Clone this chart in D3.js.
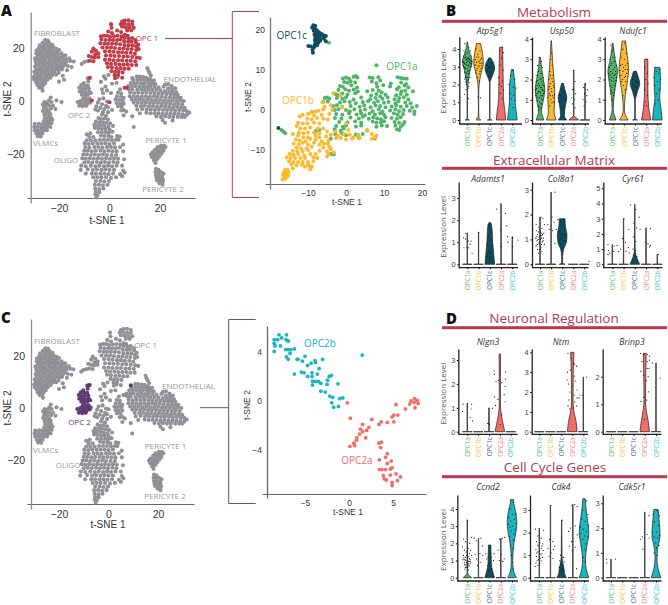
<!DOCTYPE html>
<html><head><meta charset="utf-8"><script src="https://cdn.jsdelivr.net/npm/d3@7"></script>
<style>html,body{margin:0;background:#fff}svg{display:block}text{font-family:"Open Sans",sans-serif}</style></head>
<body><svg id="c" width="668" height="605"></svg>
<script>
// ---------- t-SNE overview clusters (t-SNE 1, t-SNE 2)
const fibroblast=[[-25.5,23],[-24.4,22.8],[-26.5,22],[-25.1,21.7],[-23.8,21.9],[-27.6,21],[-26,20.8],[-24.6,21],[-23.4,20.7],[-22.6,21.2],[-28,19.9],[-26.9,20],[-25.5,19.7],[-24.2,20],[-23,19.8],[-22,20.1],[-21,19.7],[-28.9,19],[-27.5,18.8],[-26.2,19],[-25,18.7],[-23.6,19],[-22.4,18.7],[-21,18.9],[-20,19.2],[-29,18],[-27.8,17.7],[-26.6,18],[-25.2,17.7],[-24,18],[-22.8,17.6],[-21.6,18],[-20.4,17.7],[-19,18],[-28.5,16.9],[-27,16.7],[-25.8,17],[-24.5,16.7],[-23.4,17],[-22.2,16.7],[-21,17],[-19.8,16.6],[-18.5,17],[-17.5,17.2],[-29.5,16],[-28,15.8],[-26.8,16],[-25.5,15.7],[-24,16],[-22.8,15.6],[-21.4,16],[-20,15.7],[-18.8,16],[-17.4,15.8],[-16,16.1],[-29.2,15],[-27.6,14.8],[-26.2,15],[-25,14.7],[-23.6,15],[-22.2,14.8],[-21,15],[-19.6,14.7],[-18.2,15],[-17,14.8],[-15.5,15.1],[-14.2,14.9],[-29,14],[-28,13.8],[-26.6,14],[-25.4,13.7],[-24,14],[-22.8,13.7],[-21.4,14],[-20.2,13.6],[-19,14],[-17.6,13.8],[-29.4,13],[-27.8,12.8],[-26.4,13],[-25,12.7],[-23.6,13],[-22.4,12.7],[-21,13],[-19.6,12.7],[-18.4,13],[-16.5,13.2],[-15,12.8],[-29,12],[-27.6,11.8],[-26.4,12],[-25.2,11.7],[-24,12],[-22.8,11.7],[-21.2,12],[-20,11.7],[-18.8,11.9],[-16.8,11.6],[-29.8,11],[-28.4,10.8],[-27,11],[-25.6,10.7],[-24.4,11],[-23,10.7],[-21.8,11],[-20.2,10.6],[-29.4,10],[-28,9.8],[-26.8,10],[-25.4,9.7],[-24,10],[-22.6,9.8],[-21.2,9.9],[-18.5,9.5],[-30,9],[-28.6,8.8],[-27.4,9],[-26,8.7],[-24.8,9],[-23.4,8.8],[-29.8,8],[-28.4,7.8],[-27.2,8],[-25.8,7.7],[-24.6,8],[-20,7.3],[-18,8],[-29,7],[-27.8,6.8],[-26.6,7],[-25.4,6.8],[-28.6,6],[-27.4,5.8],[-26.2,6],[-27.8,5],[-26.8,4.9],[-26.5,3.9],[-11,14],[-10,14.7],[-8.8,15]];
const vlmc=[[-23.3,1.3],[-24,0.2],[-23,-0.4],[-25.8,-0.4],[-24.8,-0.7],[-26.4,-1.3],[-25.2,-1.7],[-24,-1.6],[-22.4,-1.8],[-26,-2.6],[-24.8,-3],[-23.2,-2.8],[-21.4,-3],[-26.4,-3.8],[-25.2,-4.2],[-24,-4.1],[-25.8,-5.2],[-24.4,-5.4],[-23.4,-4.9],[-25.6,-6.4],[-24.4,-6.6],[-23.2,-6.2],[-26,-7.6],[-24.8,-7.8],[-23.6,-7.4],[-22.6,-7.1],[-29.6,-8.7],[-28,-8.6],[-26.8,-8.8],[-25.4,-8.8],[-24.2,-8.6],[-23,-8.4],[-29.8,-9.8],[-28.4,-9.8],[-27,-10],[-25.8,-9.9],[-24.6,-9.8],[-23.4,-9.8],[-29.6,-11],[-28.4,-11],[-27.2,-11.2],[-26,-11],[-24.8,-11],[-29,-12.2],[-27.8,-12.3],[-26.6,-12.2],[-28.4,-13.3],[-27.2,-13.4],[-19,-0.4],[-21,0.3]];
const oligo=[[-4.6,-0.6],[-3,-1.2],[-1.4,-1.8],[-5.2,-2],[-3.6,-2.6],[-2,-3],[-0.6,-2.4],[1,-3.4],[-5.6,-3.2],[-4.6,-3.6],[-2.6,-4.2],[-0.6,-4.2],[-3,-5.2],[-1.4,-5.6],[-4.4,-6.4],[-3.4,-6.8],[-2,-6.6],[-0.6,-7],[-5.4,-7.8],[-4,-8],[-2.6,-8],[-1.2,-8.2],[0.2,-8.4],[-6,-9],[-4.8,-9.2],[-3.4,-9.2],[-2,-9.4],[-0.4,-9.6],[1.4,-9.4],[-5.8,-10.2],[-4.4,-10.4],[-3,-10.6],[-1.6,-10.6],[0,-10.8],[-9,-12.6],[-7.6,-12.2],[-4.6,-11.8],[-3,-11.8],[-1.4,-11.8],[-0.2,-12],[1.2,-11.6],[-8,-13.6],[-6.4,-13.6],[-3.4,-13],[-2,-13.2],[-0.4,-13.2],[0.8,-13.6],[3,-13.2],[4,-13.4],[-9,-14.8],[-7.4,-14.8],[-5.6,-14.8],[-3.8,-14.6],[-2.2,-14.6],[-0.6,-14.6],[1,-14.8],[2.6,-14.6],[3.6,-14.6],[-9.8,-16],[-8.2,-16.2],[-6.6,-16],[-4.8,-16],[-3.2,-16],[-1.6,-16],[0,-16.2],[1.8,-16],[5.4,-16.4],[-9.6,-17.4],[-8,-17.6],[-6,-17.4],[-4.4,-17.4],[-2.8,-17.6],[-1,-17.4],[0.6,-17.4],[2.2,-17.6],[4.2,-17.4],[-10,-18.8],[-8.6,-18.8],[-7,-19],[-5.4,-18.8],[-3.6,-18.8],[-2,-19],[-0.4,-18.8],[1.2,-19],[2.8,-19],[5.4,-19],[-10.4,-20.2],[-9,-20.2],[-7.4,-20.4],[-5.8,-20.2],[-4.2,-20.4],[-2.6,-20.2],[-1,-20.4],[0.8,-20.4],[2.6,-20.4],[-10.8,-21.6],[-9.4,-21.8],[-7.8,-21.6],[-6.2,-21.8],[-4.6,-21.6],[-3,-21.8],[-1.4,-21.6],[0.2,-21.8],[1.8,-21.6],[3.4,-21.8],[5.8,-22],[-10,-23.2],[-8.4,-23],[-6.8,-23.2],[-5,-23],[-3.4,-23.2],[-1.8,-23],[-0.2,-23.2],[1.6,-23],[3.2,-23.2],[-11.2,-24.4],[-9.4,-24.6],[-7.4,-24.4],[-5.6,-24.6],[-4,-24.4],[-2.2,-24.6],[-0.6,-24.4],[1,-24.6],[2.8,-24.4],[5,-24.4],[-11.4,-26],[-8.6,-25.8],[-6.6,-26],[-5,-25.8],[-3.2,-26],[-1.6,-25.8],[0,-26],[1.8,-26],[5.4,-26.2],[6,-27],[-9.4,-27.4],[-7,-27.4],[-5.4,-27.4],[-3.6,-27.4],[-2,-27.4],[-0.4,-27.6],[1.4,-27.4],[4.2,-27.6],[5,-28.4],[-6.4,-28.8],[-4.8,-28.8],[-3.2,-28.8],[-1.4,-28.8],[0.6,-29],[2.6,-28.8],[-5.4,-30.2],[-3.6,-30.2],[-2,-30.4],[-0.2,-30.2],[-5.8,-31.6],[-4.2,-31.6],[-2.6,-31.8],[-0.8,-31.6],[-5.6,-33],[-4,-33.2],[-2.4,-33],[-5.4,-34.2],[-4,-34.4],[-5.6,-35.2],[-4.8,-35.6],[-5.2,-36.4]];
const endothelial=[[15,12.4],[15.4,11.4],[15.8,10.6],[16.4,9.6],[10.8,9.2],[12,9.2],[13.4,9],[14.6,8.8],[16,8.4],[9.4,8],[11,8],[12.4,8],[13.8,7.8],[15.2,7.8],[16.6,7.6],[17.6,7.8],[22,6.2],[23.2,6.4],[24.6,5.6],[8.4,6.8],[9.8,6.8],[11.2,6.8],[12.6,6.6],[14,6.8],[15.6,6.6],[17,6.6],[18.2,6.4],[21.4,5.4],[7.4,5.6],[8.8,5.6],[10.2,5.6],[11.8,5.4],[13.4,5.6],[14.8,5.4],[16.2,5.6],[17.8,5.4],[19.4,5.2],[23.2,4.8],[24.8,4.6],[26,4.8],[7.6,4.4],[9,4.4],[11,4.2],[12.6,4.4],[14,4.2],[15.6,4.4],[17,4.2],[18.6,4.2],[20.2,4],[22,3.8],[23.6,3.6],[25,3.6],[26.4,3.4],[8.2,3.2],[9.8,3],[11.4,3.2],[13,3],[14.6,3.2],[16.2,3],[17.8,3],[19.4,2.8],[21,2.8],[22.6,2.6],[24.2,2.6],[25.6,2.4],[27,2.4],[8,1.8],[9.6,1.8],[11.2,1.8],[12.8,1.6],[14.4,1.8],[16,1.6],[17.6,1.8],[19,1.6],[20.6,1.6],[22.2,1.4],[24,1.4],[25.6,1.2],[27,1.2],[28.2,1.2],[8.8,0.6],[10.4,0.6],[12,0.6],[13.6,0.4],[15.2,0.6],[16.8,0.4],[18.4,0.4],[20,0.4],[21.6,0.2],[23.2,0.2],[24.8,0.2],[26.4,0],[28,0.2],[29.4,0],[9.6,-0.6],[11.2,-0.6],[12.8,-0.8],[14.4,-0.6],[16,-0.8],[17.6,-0.8],[19.2,-0.8],[20.8,-1],[22.4,-1],[24,-1],[25.6,-1.2],[27.2,-1],[28.8,-1.2],[10.6,-1.8],[12.4,-2],[14,-1.8],[15.6,-2],[17.2,-2],[18.8,-2.2],[20.4,-2],[22,-2.2],[23.6,-2.2],[25.2,-2.4],[26.8,-2.2],[28.4,-2.4],[29.8,-2.6],[11,-3.2],[13,-3],[14.8,-3.2],[16.4,-3.2],[18,-3.4],[19.6,-3.2],[21.2,-3.4],[22.8,-3.4],[24.4,-3.4],[26,-3.6],[27.6,-3.4],[29.2,-3.6],[30.6,-3.8],[31.6,-4.4],[12,-4.6],[14.6,-4.4],[16.2,-4.6],[17.8,-4.6],[19.4,-4.6],[21,-4.8],[22.6,-4.6],[24.2,-4.8],[25.8,-4.8],[27.4,-4.8],[29,-5],[30.6,-5.2],[9,-5.8],[18.6,-5.8],[20.4,-6],[22,-5.8],[23.6,-6],[25.2,-6],[27,-6],[28.6,-6],[29.8,-6],[21,-7.2],[25,-7.4],[22,-8.2],[9.6,-9.8]];
const pericyte1=[[20.4,-16.8],[21.6,-16.8],[19,-17.4],[20.2,-17.6],[21.4,-17.8],[22.2,-17.4],[18,-18.4],[19.2,-18.6],[20.4,-18.8],[21.4,-18.8],[17,-19.4],[18.2,-19.6],[19.4,-19.8],[20.6,-19.8],[16.4,-20.2],[17.4,-20.6],[18.6,-20.8],[19.8,-20.8],[16.8,-21.2],[18,-21.6],[19,-21.8],[17.6,-22.4],[18.4,-22.2],[18.2,-23.4]];
const pericyte2=[[18.4,-25.6],[19.4,-26],[18.2,-26.8],[19.4,-27],[20.4,-26.8],[21.4,-27.4],[18.4,-28],[19.6,-28.2],[20.8,-28.2],[18.6,-29],[19.8,-29.2],[21,-29.2],[18.8,-30],[20,-30.2],[21.2,-30.2],[19.8,-31],[20.9,-31],[21,-31.6]];
const opc2Cluster=[[-8.6,8.6],[-7.6,8.8],[-8.4,7.4],[-10.2,6.8],[-11.2,6],[-9.8,5.8],[-8.6,5.8],[-12,5],[-10.8,4.6],[-9.6,4.6],[-8.2,4.8],[-11.8,3.6],[-10.6,3.4],[-9.4,3.4],[-8,3.6],[-11,2.4],[-9.8,2.2],[-8.6,2.4],[-7.4,3],[-10.4,1],[-9.2,1],[-8,1],[-11.4,0],[-10,0],[-8.8,0],[-7.6,0.2],[-12.6,-0.4],[-11.4,-1],[-10,-1],[-8.8,-1],[-7.6,-0.6],[-12,-1.8],[-10.6,-2],[-9.2,-1.8]];
const scatterGray=[[-2.2,9.3],[-0.4,9.8],[3.2,9],[-3.4,7.2],[-1.6,8.4],[1,6.5],[2.8,6.8],[-1.6,5.5],[-3,4.4],[-1,4],[0.6,3],[-2.6,3],[3.4,3.2],[4.2,4.4],[4.6,2.8],[3,1.8],[4.6,1.6],[5.6,1.2],[2.4,0.6],[3.8,0.4],[5.2,0.2],[2.8,-0.8],[4.2,-1],[5.6,-1],[3.4,-2],[4.8,-2.2],[5.6,-3.4],[4.6,-3.6],[6.6,-4],[5.6,-5.4],[-2.4,1],[-4,0.6],[-1,-0.2]];
const opc1Cluster=[[5,30],[6,30.4],[7.5,30.5],[9,30],[4.5,29],[6,29.2],[7.5,28.9],[9,28.9],[5,28],[6.5,27.8],[8,27.7],[9.6,27.6],[7,26.6],[8.6,26.6],[0.6,29],[0.8,27.6],[-0.5,26.2],[1,25.6],[3,26.6],[4.6,26],[6.1,25],[7.2,24.6],[-3.4,24.4],[-2.2,24.6],[-1,24.6],[0.2,24.2],[1.8,24.4],[3.2,24.6],[4.8,24.4],[6,23.8],[7.6,23.6],[9,23.8],[10.2,23],[-3.2,23.2],[-1.6,23],[0,23],[1.4,23],[3,23],[4.4,23.2],[5.8,22.4],[7.4,22.4],[8.6,22.4],[10.4,22.2],[11.4,21.2],[-3.6,21.8],[-2,21.6],[-0.6,21.6],[1,21.6],[2.6,21.6],[4.2,21.4],[6,21],[7.6,21],[9.2,21],[10.6,20.6],[-2.8,20.2],[-1,20.2],[0.6,20.2],[2.2,20],[4,19.8],[5.6,19.8],[7.2,19.6],[8.8,19.6],[10.6,19.2],[11.6,19.6],[-6.4,19.8],[-5.4,19],[-7,18.6],[-5.6,17.6],[-4.4,18],[-1.8,18.8],[0,18.8],[1.6,18.6],[3.4,18.4],[5,18.4],[6.6,18.2],[8.4,18.2],[10,17.8],[-8.2,17],[-7,16.6],[-5.8,16.4],[-4.4,16.6],[-1.4,17.2],[0.4,17.2],[2,17],[3.8,17],[5.6,16.8],[7.2,16.8],[9,16.6],[10.8,16.4],[12,16.2],[-7.8,15.2],[-6.4,15],[-1.8,15.6],[0,15.6],[1.6,15.4],[3.4,15.4],[5,15.4],[6.8,15.2],[8.4,15.2],[10.2,15],[-1,14.2],[0.6,14],[2.4,14],[4,13.8],[5.6,13.8],[7.2,13.8],[8.8,13.6],[10.6,13.6],[-0.6,12.8],[1,12.6],[2.8,12.4],[4.4,12.4],[6,12.2],[7.6,12.2],[0.8,11.2],[2.2,11],[3.6,11],[5.2,10.8],[2,9.8],[3.4,9.8],[-8,8.7],[-7,0.2],[0,-0.5],[2.2,8.6],[5,8.8],[6,5],[6.8,5]];
const opc2Stray=[[9,8.7]];
const overviewLabels=[['FIBROBLAST',57,33.5],['OPC 1',147,38],['ENDOTHELIAL',190,79],['OPC 2',79,115],['VLMCs',45.5,143.5],['PERICYTE 1',166,140],['OLIGO',66,160],['PERICYTE 2',163,189]];
const overviewLabelsC=[['FIBROBLAST',57,341],['OPC 1',145.5,345],['ENDOTHELIAL',188.5,386],['OPC 2',79.5,422],['VLMCs',45.5,450],['PERICYTE 1',165.5,446],['OLIGO',68,465],['PERICYTE 2',165,496]];

// ---------- OPC1 zoom clusters
const opc1a=[[8,11.2],[-0.8,7.9],[0,8.1],[0.8,7.8],[2,8.3],[2.6,8.5],[3,8.1],[6.2,8.1],[7,8],[8.5,8.2],[13.6,8.2],[14.4,8],[15.2,7.9],[16,7.8],[-0.5,7],[0.4,6.8],[1.2,7.2],[2.4,6.9],[6.8,7.1],[8,6.7],[9,7.4],[11.8,6.6],[14.5,6.9],[15.8,6.5],[-1.6,6],[-0.8,5.8],[1.4,6.2],[2.9,5.6],[8.2,5.8],[9.8,6.2],[11.6,5.9],[13.9,5.7],[15.4,6.1],[16.4,5.6],[-2,5],[-0.2,5.2],[0.8,4.8],[2,5.1],[3.1,4.6],[5.6,4.7],[7,5],[8.6,4.9],[9.4,4.4],[13.4,5.2],[14.6,4.7],[15.6,4.8],[17.6,4.7],[-2.8,4],[-2,3.7],[-1,4.1],[0.4,3.8],[2.4,4.2],[6.6,3.6],[8,4],[9,3.4],[10.4,3.8],[13.2,3.7],[14.4,4],[16,3.8],[-5.6,3],[-5,3.1],[-4.4,2.9],[-2.4,3],[-1,2.8],[0,3.2],[2,2.6],[4,3.1],[6.4,2.7],[7.8,3],[9.6,2.8],[11,3.1],[12.8,2.7],[14,3],[15.2,3.2],[16.4,2.6],[-6,2],[-4.8,2.1],[-1.6,1.9],[-0.4,2.2],[1,2],[2.6,1.7],[4.4,2],[5.8,2.2],[7.4,1.8],[8.4,2.2],[10,1.8],[11.2,2],[13,1.6],[13.8,2.2],[15.6,1.9],[17,1.7],[-3.4,1],[-2.4,1.2],[-1,0.8],[1.2,1],[3.6,0.8],[4.8,1.2],[6.5,0.7],[7.8,1.1],[9,1],[10.4,0.7],[12,0.9],[13.2,1.2],[14.4,0.8],[16,1],[17.4,0.6],[18.6,1],[-3,0],[-2,0.2],[0,0],[1,-0.3],[2.2,0.2],[3.8,-0.2],[5,0.1],[7,-0.3],[8.6,0.2],[9.6,-0.4],[11.6,-0.1],[13,0.2],[14,-0.3],[15.2,0],[16.8,-0.2],[18,-0.4],[-2.6,-1],[-1,-1.2],[0.8,-0.8],[2.8,-1.1],[4,-0.9],[5,-1.3],[6.2,-0.9],[7.6,-1.1],[9,-0.8],[10,-1.2],[12.6,-0.8],[13.6,-1.2],[15,-1],[18,-1],[-2.9,-2],[-1.2,-2.2],[1.2,-1.9],[3.4,-2.1],[4.4,-1.7],[6,-2.2],[7.2,-1.8],[8.2,-2.1],[9.2,-2.3],[10.4,-1.8],[12,-2],[13.4,-2.2],[14.4,-1.8],[-1.8,-3],[0.4,-3.1],[2.4,-2.8],[4,-3.2],[7,-2.9],[8,-3.2],[9.2,-3.1],[10,-2.8],[12.8,-3],[14,-3.2],[15.4,-3],[-2.6,-4],[-0.8,-4.2],[0,-3.8],[2.6,-4.1],[4,-3.9],[8,-4.2],[9.4,-3.9],[10.8,-4],[13,-3.9],[14.4,-4.2],[15,-3.6],[-7,-5],[-3,-4.8],[-1.4,-5.2],[-0.6,-4.6],[5.6,-5.1],[13.4,-4.8],[14,-5],[-2.8,-6],[-1,-5.9],[0,-6.3],[2.6,-6.1],[3.2,-6.3],[4.4,-6],[-4,-7.2],[3.4,-7],[7.6,-7.1],[-9,-0.5],[-8,-5.3],[-4,-11],[-3.2,-11.1],[-4.5,16.8],[-17,-5],[-16.5,-5.4],[-16,-5.8]];
const opc1b=[[-3.3,4.2],[-1.4,3.6],[-6.2,1.9],[-4,1.2],[-5.6,0.8],[-1,0.6],[-3.6,0],[-6,0.2],[-7.2,-0.2],[-8,-0.4],[-9.2,-0.6],[-10,-1],[-11.4,-1.2],[-12.2,-1.6],[-8.4,-1.4],[-6.4,-1.2],[-4.4,-1],[-10.2,-2.2],[-9,-2.4],[-7.6,-2],[-6,-2.2],[-4.8,-2.4],[-12.6,-3.2],[-11.4,-3.4],[-10.2,-3.4],[-8.4,-3.2],[-7,-3.4],[-13,-4],[-12,-4.6],[-10.8,-4.6],[-9.4,-4.4],[-7.4,-4.6],[-6,-4.6],[0,-3.4],[-12.4,-5.6],[-11.2,-5.8],[-10,-5.6],[-8.4,-5.6],[-7,-5.8],[-5,-5.4],[0.6,-5],[-2.8,-5.4],[-14,-6],[-12.6,-6.4],[-11.2,-6.8],[-10,-6.8],[-8,-6.4],[-7,-6.8],[-5.2,-6.6],[-4,-6.2],[-2.2,-6.4],[-0.6,-6],[1,-6.2],[3.2,-6.2],[5.6,-5],[6.8,-6],[8,-6.4],[-13.2,-7.4],[-12.2,-7.6],[-10.6,-7.8],[-9.4,-7.2],[-8,-7.4],[-6.4,-7.8],[-4.6,-7.6],[-2.6,-7],[-1.4,-7],[0,-7.4],[1.6,-7.2],[2,-6.8],[3.6,-7],[6.8,-7.2],[7.6,-6.8],[-13.8,-8.4],[-12.4,-8.6],[-11.4,-8.2],[-10,-8.6],[-8.4,-8.2],[-7,-8.6],[-5.8,-8.4],[-4.8,-8.4],[-13,-9.4],[-11.8,-9.6],[-10.4,-9.6],[-9,-9.2],[-6,-9.4],[-4.4,-9.2],[-14,-10.2],[-12.8,-10.4],[-11.4,-10.4],[-10,-10],[-7,-10.2],[-5,-10.4],[-4,-9.8],[-14.8,-11],[-13.8,-11.2],[-12.6,-11],[-11,-11.4],[-9.4,-11],[-8,-11],[-4.6,-11],[-3.2,-10.6],[-15.6,-11.8],[-14.6,-12],[-13.4,-12],[-12,-12],[-10.8,-12],[-8.6,-11.8],[-7.6,-12],[-5,-11.6],[-15,-12.8],[-13.8,-13],[-12.6,-13],[-11.4,-13],[-10,-13],[-8.6,-12.8],[-14.4,-13.6],[-13,-13.8],[-11.6,-13.6],[-10,-13.6],[-14,-14.6],[-10.8,-14.2],[-9.6,-14],[-9,-14.2],[-9.4,-14.8],[-16,-15],[-15.4,-15],[-15.2,-15.4],[-16.4,-15.6],[-15.7,-15.8],[-15.2,-16],[-16.6,-16.2],[-16,-16.4],[-15.4,-16.6],[-16.4,-17],[-16,-17.2],[-16.7,-17.4]];
const opc1c=[[-8.6,21.2],[-8.1,21],[-8.9,20.6],[-8.3,20.3],[-7.8,20],[-8.5,19.8],[-7.4,19.6],[-8,19.4],[-7,19.3],[-6.4,19],[-8.3,18.8],[-7.6,18.8],[-5.8,18.6],[-5.3,18.5],[-7,18.5],[-8,18.2],[-7.4,18],[-6.6,18],[-5.8,17.8],[-8.2,17.5],[-7.5,17.4],[-6.8,17.3],[-8,16.9],[-7.3,16.8],[-5.3,17.2],[-8.2,16.3],[-7.6,16.2],[-9.9,16],[-9.2,15.9],[-8.4,15.7],[-8.8,15],[-8.7,14.3],[-17.8,-4.5]];
// ---------- OPC2 zoom clusters
const opc2b=[[-8.5,5],[-8.5,4.7],[-8.4,4.5],[-8.5,4.05],[-7.95,5.4],[-7.65,5.15],[-8.1,5],[-7.1,5.4],[-7.15,5],[-6.9,4.9],[-7.8,4.5],[-7.2,4.2],[-6.9,4.2],[-6.6,4.2],[-6.2,4.25],[-6.7,3.9],[-7.1,3.6],[-6.9,3.4],[-5.9,3.4],[-5.8,3.4],[-5.3,3.25],[-5,3.65],[-4.7,2.9],[-4.3,3.1],[-3.85,3.3],[-3.8,3.15],[-3,3.4],[-3.4,2.65],[-6.2,2.2],[-5.4,2.35],[-5.1,2.3],[-4.7,2],[-4.2,2.3],[-4.2,2],[-3.6,2.2],[-2,2.1],[-2.25,2],[-2.45,1.7],[-1.25,1.4],[-4.15,1.6],[-3.85,1.6],[-3.5,1.6],[-3.2,1.45],[-4.15,1.3],[-2.5,1.35],[-3.2,0.8],[-2.7,0.73],[-2.2,0.4],[-1.85,0.3],[-1.05,0.2],[-0.7,0.25],[-1.95,-0.15],[-1.75,-0.5],[-1.2,-0.45],[1.5,3.75]];
const opc2a=[[-0.2,-0.15],[0.15,-1.4],[7.45,0.2],[7.05,0],[7.75,0.05],[7.4,-0.1],[6.9,-0.25],[7.85,-0.2],[6.4,-0.65],[7.5,-0.55],[5.35,-0.3],[5.1,-1.15],[5.55,-1.15],[4.9,-1.3],[5.1,-1.7],[4.35,-1.75],[3.65,-1.7],[3.4,-1.9],[2.6,-1.5],[1.55,-1.9],[2.25,-2.15],[2,-2.4],[1.3,-2.3],[1.55,-2.5],[1.2,-2.7],[1.9,-3],[0.9,-3],[0.85,-3.2],[0.55,-3.45],[0.1,-3.7],[0.65,-3.65],[3.4,-3.45],[3.7,-3.35],[3.6,-3.8],[4.35,-4.3],[4.15,-4.6],[3.45,-4.8],[4.8,-4.9],[4.35,-5.1],[3.45,-5.6],[3.75,-5.6],[4.15,-5.6],[4.7,-5.55],[4.9,-5.45],[3.9,-6.1],[4,-6.35],[4.25,-6.45],[4.7,-6.05],[5.35,-5.95],[5.85,-6.2],[5.5,-6.5],[4.9,-6.65],[4.9,-6.9]];

// ---------- violins: shape = [value, relative half width]; a bare number = thin line up to that value
const catNames=['OPC1a','OPC1b','OPC1c','OPC2a','OPC2b'];
const catColors=['#4fb568','#fdb92b','#0e4d5e','#f26d68','#17b7c0'];
const catTextColors=['#62c07a','#f8c23f','#3f6f7c','#f58580','#3cc6cd'];
const atp5g1Shape=[[[0,.45],[.05,.05],[1.5,.03],[2.2,.2],[2.8,.6],[3.3,1],[3.7,.6],[4.1,.2],[4.4,.03]],[[0,.45],[.15,.1],[.4,.03],[1.5,.03],[2.5,.4],[3.2,1],[3.8,.8],[4.2,.5],[4.3,.45]],[[0,.5],[.03,.03],[2.1,.03],[2.4,.4],[2.9,1],[3.2,.8],[3.5,.2]],[[0,1],[.5,.8],[1.2,.5],[2,.45],[3,.4],[4.1,.3]],[[0,1],[.5,.8],[1,.6],[1.8,.6],[2.4,.4],[2.85,.2]]];
const usp50Shape=[[[0,.8],[.2,.5],[.4,.3],[1,.7],[1.5,1],[2,.7],[2.6,.3],[3.1,.1]],[[0,1],[.4,.6],[1,.7],[1.5,.7],[2.2,.5],[3,.25],[3.9,.05]],[[0,.9],[.2,.4],[.7,.6],[1.1,.9],[1.5,.5],[1.8,.2]],[[0,1],[.1,.6],[.2,.05],[1.2,.03],[2.45,.03]],1.8];
const ndufc1Shape=[[[0,.7],[.2,.4],[.5,.1],[1.2,.3],[2,.8],[2.4,1],[3,.5],[3.5,.2],[3.8,.05]],[[0,.9],[.2,.4],[.5,.1],[1.2,.3],[2,.8],[2.5,1],[3.2,.7],[3.9,.35]],[[0,.5],[.05,.05],[.9,.05],[1.4,.5],[1.8,1],[2.1,.7],[2.4,.3]],[[0,1],[.6,.55],[1.5,.35],[2.2,.35],[3,.35]],[[0,1],[.5,.8],[1.1,.5],[1.7,.65],[2.2,.65],[2.6,.5]]];
const adamts1Shape=[1.42,1.45,[[0,1],[.4,.85],[1,.6],[1.5,.5],[1.8,.35],[1.9,.1]],2.75,1.25];
const col8a1Shape=[1.9,2.9,[[0,.6],[.05,.1],[.3,.1],[.6,.3],[.9,.9],[1.2,1],[1.5,.7],[1.83,.6]],0,0];
const cyr61Shape=[1.3,3,[[0,1],[.3,.6],[.6,.25],[1,.08],[2,.04],[3.95,.03]],2.4,.65];
const nlgn3Shape=[1.2,0,1,[[0,1],[.3,.7],[.7,.3],[1.2,.12],[2,.12],[3.25,.15]],0];
const ntmShape=[0,0,0,[[0,1],[.5,.8],[1,.35],[1.5,.15],[3,.2],[4,.35]],2.75];
const brinp3Shape=[0,0,0,[[0,1],[.4,.7],[.8,.3],[1.2,.15],[2,.2],[2.85,.3]],2.5];
const ccnd2Shape=[[[0,.9],[.15,.3],[.3,.05],[3.35,.03]],2.3,[[0,1],[.4,.6],[.8,.35],[1.3,.3],[1.9,.25]],2.3,[[0,.9],[.5,.25],[1,.15],[2,.4],[2.8,.9],[3.3,1],[3.9,.7],[4.3,.4],[4.55,.3]]];
const cdk4Shape=[2.2,3.2,[[0,1],[.2,.6],[.4,.5],[.7,.2],[1,.08],[2.55,.03]],3.25,[[0,1],[.4,.45],[.8,.3],[1.4,.6],[2,1],[2.6,.7],[3,.45],[3.5,.25]]];
const cdk5r1Shape=[.75,0,0,2.65,[[0,1],[.4,.4],[.8,.2],[1.2,.35],[1.7,.85],[2.2,.7],[2.75,.45]]];

// dots = [jitter (-1..1), value]
const atp5g1Dots=[[[-.5,4.3],[.3,4.1],[-.7,3.9],[.6,3.9],[0,3.8],[-.3,3.7],[.8,3.6],[-.8,3.6],[.2,3.5],[-.5,3.5],[.5,3.4],[-.2,3.4],[.9,3.3],[-.9,3.3],[.1,3.3],[-.6,3.2],[.6,3.2],[-.1,3.1],[.3,3.1],[-.7,3],[.7,3],[0,2.9],[-.4,2.9],[.4,2.8],[-.6,2.7],[.2,2.6],[-.3,2.5],[.5,2.4],[-.5,2.3],[.1,2.2],[-.2,2],[.3,1.9],[-.3,1.7],[-.6,1.45],[.2,1.2],[-.35,3.55],[.35,3.45],[.7,3.35],[-.75,3.25],[.15,3.4],[-.15,3.25],[.45,3.25],[-.45,3.15],[.85,3.15],[-.85,3.05],[.2,3.05],[-.05,3.5],[.55,3],[-.55,2.95],[.1,2.75],[-.2,2.65],[.35,2.6],[-.4,2.4],[.25,2.3],[-.1,2.4],[.4,2.1],[-.3,2.15],[.15,1.8]],[[-.5,4],[.3,3.9],[-.2,3.7],[.6,3.5],[-.7,3.4],[.1,3.3],[-.4,3.25],[.7,3.2],[.3,3.2],[-.8,3.1],[-.1,3],[.5,2.9],[-.5,2.8],[.2,2.6],[-.3,2.4],[.2,2.2],[-.1,1.3],[.4,1.25],[-.4,.1],[0,3.55],[-.35,3.55],[.45,3.4],[-.55,3.1],[.15,3.05],[.6,3.05],[-.25,2.9],[.3,2.75],[-.6,2.65]],[[-.3,3.4],[.5,3.2],[-.6,3.1],[.2,3],[-.2,2.95],[.6,2.9],[-.5,2.8],[0,2.7],[.3,2.6],[-.3,2.5],[.1,2.4],[-.1,2.2]],[[.2,4.1],[-.3,3.9],[.5,3.8],[.1,3.5],[-.2,3.1],[.4,2.8],[-.5,2.4],[.3,2.2],[-.4,2],[.1,1.9],[.5,1.7],[-.2,1.5],[.2,1.2]],[[.1,2.8],[-.4,2.5],[.5,2.3],[-.7,2],[.2,1.85],[.8,1.8],[-.5,1.5],[.3,1.4],[-.2,1.2],[.6,1.1],[-.5,.9],[.1,.7]]];
const usp50Dots=[[[-.2,3.1],[.3,2.9],[-.5,2.7],[.5,2.6],[-.3,2.4],[.2,2.3],[-.6,2.2],[.7,2.1],[0,2],[-.8,1.9],[.4,1.9],[-.3,1.8],[.8,1.7],[-.6,1.7],[.1,1.6],[-.9,1.5],[.5,1.5],[-.2,1.4],[.7,1.3],[-.6,1.3],[.2,1.2],[-.4,1.1],[.5,1],[-.1,.9],[.3,.8],[-.4,.7],[.1,.6],[-.2,.5],[.15,2.05],[-.45,1.95],[.55,1.75],[-.15,1.7],[.3,1.6],[-.7,1.55],[.65,1.45],[-.35,1.4],[.1,1.35],[-.85,1.2],[.45,1.2],[-.1,1.1],[.3,1.05],[-.55,.95],[.15,.8],[-.25,.65]],[[0,3.9],[.1,3.3],[-.1,3],[.2,2.7],[-.3,2.4],[.4,2.2],[-.5,2],[.3,1.9],[-.2,1.8],[.6,1.6],[-.6,1.5],[.1,1.4],[-.4,1.3],[.7,1.25],[.3,1.2],[-.7,1.1],[-.1,1],[.5,.9],[-.3,.7],[.15,2.05],[-.15,2.2],[.45,1.7],[-.4,1.65],[0,1.55],[-.2,1.2],[.45,1.1],[.15,.85]],[[0,1.8],[-.3,1.5],[.4,1.4],[-.5,1.2],[.2,1.1],[-.2,1],[.6,1],[-.6,.9],[.3,.8],[-.2,.7],[.1,.6]],[[0,2.45],[.3,1.9],[-.2,1.5],[.4,1.3],[-.4,1.1],[.2,1],[-.3,.8],[.3,.6]],[[.1,1.8],[-.3,1.6],[.5,1.5],[-.1,1.3],[.4,1.2],[-.4,1],[.2,.9],[-.2,.7]]];
const ndufc1Dots=[[[-.4,3.7],[.2,3.5],[-.1,3.4],[.5,3.1],[-.6,3],[.3,2.9],[-.2,2.8],[.7,2.7],[-.7,2.6],[.1,2.5],[-.4,2.4],[.6,2.4],[-.8,2.3],[.3,2.2],[-.2,2.1],[.8,2.1],[-.6,2],[.1,1.9],[.5,1.8],[-.4,1.7],[-.1,1.6],[.4,1.5],[-.4,1.3],[.2,1.2],[-.1,1],[.05,3.1],[-.35,2.7],[.4,2.6],[-.05,2.3],[.55,2.25],[-.55,2.2],[.2,2.05],[-.3,1.95],[.65,1.95],[.3,1.7],[-.25,1.45],[.1,1.35]],[[.2,3.8],[-.2,3.5],[.5,3.3],[-.5,3.1],[.1,3],[.7,2.8],[-.7,2.7],[.3,2.5],[-.2,2.4],[.6,2.3],[-.6,2.2],[.1,2.1],[-.3,2],[.4,1.9],[-.1,1.7],[.3,1.5],[-.2,1.2],[-.35,2.75],[.4,2.7],[-.05,2.6],[.8,2.5],[-.8,2.45],[.35,2.15],[-.5,1.9]],[[.1,2.4],[-.3,2.2],[.4,2.1],[-.5,2],[.1,1.9],[.5,1.85],[-.2,1.7],[.3,1.6],[-.3,1.5],[.1,1.3]],[[.1,3],[-.3,2.6],[.2,2.3],[-.1,2],[.4,1.8],[-.3,1.5],[.3,1.2],[-.2,.9],[.1,.7]],[[-.5,2.6],[.6,2.5],[-.2,2.4],[.3,2.3],[-.7,2.1],[.7,2],[.1,1.9],[-.5,1.7],[.4,1.5],[-.2,1.3],[.2,1],[-.4,.8]]];
const adamts1Dots=[[[-.8,1.2],[-.4,1.15],[.2,1.05],[.8,1.05],[-.7,.75],[-.1,.75],[.3,.75],[.6,.9],[1,.5],[-.3,1.4]],[[.05,1.45]],[[-.1,1.8],[.3,1.45],[-.3,1.25],[.1,1.1],[-.5,.9],[.4,.85],[-.2,.6],[.2,.5],[-.4,.35],[.3,.3],[0,.2]],[[-.9,2.5],[.9,2.3],[-.1,1.55],[1.2,1.75],[0,.8]],[[-1,1.25],[.1,1.2],[1.2,1.1],[-.9,1],[.1,.8]]];
const col8a1Dots=[[[.2,1.9],[.6,1.85],[-.8,1.6],[.9,1.6],[-.3,1.5],[.4,1.45],[-.7,1.35],[.1,1.3],[.8,1.25],[-.5,1.2],[.4,1.15],[-.2,1.1],[-.9,1.05],[.7,1.05],[.1,1],[-.6,.95],[.5,.9],[-.2,.85],[.9,.8],[-.8,.75],[.2,.7],[-.5,.6],[.4,.5],[-.3,.45],[-.1,1.4],[.25,1.25],[-.35,1.3],[.55,1.2],[-.65,1.1],[.05,1.15],[.3,1.05],[-.4,1],[.65,.95],[-.05,.9],[.3,.8],[-.55,.8],[.05,.6]],[[.8,2.9],[.2,1.9],[.6,1.7],[-.7,1.6],[1.1,1.4],[-.4,1.4],[.3,1.35],[.8,.85]],[[-.9,1.8],[-.4,1.75],[.2,1.8],[.5,1.45],[-.5,1.3],[.1,1.2],[.6,1.15],[-.2,1.05],[.3,.95],[-.4,.8],[.1,.65],[0,.4]],[],[[1,.12]]];
const cyr61Dots=[[[-.9,1.3],[.4,1.2],[1,1.25],[-.8,.9],[.3,.85],[-.5,.75],[-.9,.65]],[[.1,3],[1.1,2.3],[-.2,1.7],[.4,1.45],[1,1.1],[-.6,1],[.5,.85],[1.2,.75],[-1,.85]],[[-.9,3.9],[.2,3.6],[.9,3.1],[-.2,2.7],[.4,2.4],[1.1,2.3],[-.3,1.8],[.2,1.5],[-.4,1],[.2,.9],[-.3,.6],[.4,.5],[-.2,.3]],[[.9,2.35],[-.1,1.45],[.4,1.35],[.9,1.25],[.7,1.15]],[[.2,.65]]];
const nlgn3Dots=[[[-.9,1.15],[.9,1.15],[-1,.85],[.8,.95],[.6,.6],[1.1,.45]],[],[[.7,.98],[-.3,.35],[-.1,.35],[.1,.3]],[[-1.2,2.55],[-1.1,2.4],[1.2,2.5],[-.8,2.1],[-.3,2.15],[.4,2.05],[1.2,2.2],[-1.1,1.45],[1.1,1.9],[-.4,1.35],[.9,1.55],[1.1,1.25],[-.9,1.1],[.4,.7],[.1,.3]],[]];
const ntmDots=[[],[],[],[[-.9,3.95],[-.2,3.7],[.2,3.45],[.5,3.4],[.9,3.3],[-.4,3.1],[-1,3],[.4,2.8],[-1.1,2.6],[.6,2.55],[-.8,2.4],[.1,2.3],[1,2.1],[-.5,2],[.4,1.85],[1,1.7],[-.7,1.6],[.5,1.5],[-.9,1.3],[.2,1.2],[-.5,1.15],[.9,1.3]],[[-.7,1.85],[-.9,1.7],[.7,2.75],[-.2,1.85]]];
const brinp3Dots=[[],[],[],[[-.9,2.85],[-.2,2.8],[.5,2.8],[1,2.75],[-.6,2.55],[.5,2.55],[1,2.6],[-.8,2.2],[.5,2.3],[.9,2.3],[-.3,2.05],[.7,2],[.3,1.85],[.8,1.45],[-.2,1.25],[-.8,1.1],[.4,1.15],[-.1,.45]],[[-.8,2.5],[.85,1.95]]];
const ccnd2Dots=[[[0,3.35],[-.8,2.25],[.9,2.35],[-.4,2.1],[.5,2],[-1,1.8],[.2,1.7],[-.6,1.6],[.7,1.6],[-.2,1.5],[.4,1.4],[-.8,1.3],[.9,1.3],[-.4,1.2],[.1,1.15],[-.9,1.05],[.6,1.05],[-.3,1],[.3,.95],[-.6,.9],[.1,.85],[.7,.85],[-.3,.75],[.4,.7],[-.1,.6],[-.5,.5],[.2,.45],[-.15,1.3],[.25,1.25],[-.7,1.15],[.45,1.1],[-.5,1.05],[.05,1],[.55,.95],[-.2,.9],[.3,.8],[-.6,.75],[-.05,.75],[.15,.65],[-.35,.6]],[[-.9,2.3],[.5,2.3],[-.4,2.15],[.8,1.85],[.3,1.4],[-.7,1.35],[.9,1.3],[-.4,1.1],[.5,.9],[-.2,.7]],[[-.8,1.4],[.9,1.4],[-.3,1.25],[.3,1.2],[-.6,1.1],[.8,1],[.1,.85],[-.4,.7],[.4,.55],[-.1,.4]],[[.8,2.35],[-.3,2.25],[.3,2.3],[-.6,1.6],[.1,1.35],[.7,1.1],[-.3,1],[.4,.95]],[[.3,4.4],[-.4,4],[.8,3.7],[.1,3.7],[-.7,3.5],[.5,3.4],[-.3,3.3],[.9,3.15],[-.8,3.1],[.2,3],[-.4,2.95],[.7,2.8],[-.1,2.7],[.4,2.55],[-.5,2.4],[.3,2.2],[-.3,1.9],[.2,1.7],[-.1,1.3],[.1,.9],[.3,.5]]];
const cdk4Dots=[[[-.8,2.15],[.9,2.1],[-.3,1.85],[.4,1.75],[-.6,1.6],[.7,1.5],[-.1,1.4],[.4,1.3],[-.7,1.25],[.8,1.2],[-.3,1.15],[.2,1.05],[-.6,.95],[.7,.9],[-.2,.8],[.4,.75],[-.7,.65],[-.3,.55],[-.9,.5],[.1,1.55],[-.4,1.45],[.55,1.4],[.1,1.2],[-.5,1.1],[.5,1.05],[-.05,.95],[.25,.85],[-.45,.75],[.1,.65]],[[.1,3.2],[-.2,1.7],[.5,1.6],[.9,1.4],[-.5,1.3],[.6,1.25],[.1,1.1],[-.3,.95],[.5,.85]],[[.1,2.55],[-.2,1],[.4,.9],[-.4,.75],[.5,.7],[-.2,.6],[.3,.5],[-.5,.45],[.1,.4],[-.3,.3],[.4,.3]],[[.4,3.25],[-.1,3.2],[.9,3.15],[-.5,2.2],[.5,2.3],[-.9,2.05],[.9,1.9],[-.3,1.6],[-.7,1.4],[.5,1.35],[-.1,1.2],[.8,.4]],[[.5,3.4],[-.3,3],[.8,2.8],[-.5,2.6],[.2,2.5],[.9,2.3],[-.8,2.25],[-.2,2.15],[.5,2.05],[-.6,1.95],[.2,1.85],[.8,1.8],[-.3,1.7],[.4,1.5],[-.6,1.4],[.1,1.25],[-.2,.9],[.3,.7]]];
const cdk5r1Dots=[[[-.9,.75],[-.9,.6],[.9,.75]],[],[],[[-.9,1.55],[.9,2.5],[.9,1.6],[-.5,1.65],[.5,1.75],[-.4,1.15]],[[.2,2.7],[-.6,2.55],[.7,2.5],[-.3,2.25],[.5,2.1],[-.7,1.85],[.1,1.85],[.8,1.7],[-.4,1.65],[.4,1.6],[-.2,1.4],[.6,1.3],[.1,1.2],[-.4,1],[.3,.9]]];

const geneNames=['Atp5g1','Usp50','Ndufc1','Adamts1','Col8a1','Cyr61','Nlgn3','Ntm','Brinp3','Ccnd2','Cdk4','Cdk5r1'];
const geneShapes=[atp5g1Shape,usp50Shape,ndufc1Shape,adamts1Shape,col8a1Shape,cyr61Shape,nlgn3Shape,ntmShape,brinp3Shape,ccnd2Shape,cdk4Shape,cdk5r1Shape];
const geneDots=[atp5g1Dots,usp50Dots,ndufc1Dots,adamts1Dots,col8a1Dots,cyr61Dots,nlgn3Dots,ntmDots,brinp3Dots,ccnd2Dots,cdk4Dots,cdk5r1Dots];
const geneTicks=[[0,1,2,3,4],[0,1,2,3,4],[0,1,2,3,4],[0,1,2,3],[0,1,2,3],[0,1,2,3,4,5],[0,1,2,3],[0,1,2,3,4],[0,1,2],[0,1,2,3,4],[0,1,2,3],[0,1,2,3]];
// layout: axis x, first cat, last cat, x end, y of 0, y of ref value, ref value, axis top, axis bottom, title x, title y
const geneLayout=[
[459.3,467.3,512.3,522,120,49,4,37,124,490,34],
[532,540,585,589,120,39,4,37,124,561.7,34],
[604.7,612.7,657.3,662,120,39,4,37,124,633,34],
[458.7,467.3,512.3,518,264.3,198,3,182,267.7,488,182],
[532,540,584.3,588.5,264.3,189.7,3,182,267.7,561,182],
[603.3,612.3,657.3,662.5,264.3,188.3,5,182,267.7,633,182],
[458.3,467.3,510.7,517.5,431.7,360,3,349,434.3,488,344.5],
[531.7,539.3,583.3,588,431.7,352.3,4,349,434.3,561,344.5],
[602.7,611,656,661.5,431.7,376.7,2,349,434.3,632,344.5],
[457.3,467.3,512,518,577.7,509,4,495,581,488,490],
[530,539.3,584,589,577.7,510,3,495,581,561,490],
[602.7,611,656,661.5,577.7,503.3,3,495,581,632,490]];
const sectionTitles=[['Metabolism',554,17,21.3],['Extracellular Matrix',554,164.5,168.3],['Neuronal Regulation',554,323,327.7],['Cell Cycle Genes',555,471.5,476.7]];

const svg=d3.select('#c');
const RED='#c33b49',GRAY='#8f9195',PURPLE='#5d3b73';

function scatterPanel(o){
  const g=svg.append('g');
  const xa=d3.scaleLinear().domain(o.xA).range(o.xP), ya=d3.scaleLinear().domain(o.yA).range(o.yP);
  const x=xa.copy().domain([xa.invert(o.l),xa.invert(o.r)]).range([o.l,o.r]);
  const y=ya.copy().domain([ya.invert(o.b),ya.invert(o.t)]).range([o.b,o.t]);
  const ax=g.append('g').attr('transform',`translate(0,${o.xAxisY})`).call(d3.axisBottom(x).tickValues(o.xT).tickSize(0).tickPadding(o.pad).tickFormat(d3.format('d')));
  const ay=g.append('g').attr('transform',`translate(${o.yAxisX},0)`).call(d3.axisLeft(y).tickValues(o.yT).tickSize(0).tickPadding(o.padY).tickFormat(d3.format('d')));
  [ax,ay].forEach(a=>a.selectAll('text').attr('font-size',o.fs).attr('fill','#333').style('font-family','"Liberation Sans",sans-serif'));
  ax.select('.domain').attr('stroke','#555').attr('stroke-width',.9);
  ay.select('.domain').attr('stroke',o.yc).attr('stroke-width',1.3);
  o.series.forEach(s=>g.append('g').selectAll('circle').data(s.pts).join('circle').attr('cx',d=>x(d[0])).attr('cy',d=>y(d[1])).attr('r',o.r0).attr('fill',s.c));
  g.append('text').attr('x',o.xtx).attr('y',o.xty).attr('text-anchor','middle').attr('font-size',o.tfs).attr('fill','#333').style('font-family','"Liberation Sans",sans-serif').text('t-SNE 1');
  g.append('text').attr('transform',`translate(${o.ytx},${o.yty}) rotate(-90)`).attr('text-anchor','middle').attr('font-size',o.tfs).attr('fill','#333').style('font-family','"Liberation Sans",sans-serif').text('t-SNE 2');
}
const grays=[fibroblast,vlmc,oligo,endothelial,pericyte1,pericyte2,scatterGray];
scatterPanel({xA:[-20,20],xP:[59,160],yA:[-20,20],yP:[154,48],l:27,r:195,t:12,b:203,xAxisY:198,yAxisX:30.7,xT:[-20,0,20],yT:[-20,0,20],pad:7,padY:6,fs:10.5,tfs:10,r0:2.05,yc:'#8d8d8d',xtx:107,xty:224,ytx:11,yty:99,
  series:[...grays.map(p=>({pts:p,c:GRAY})),{pts:opc2Cluster,c:GRAY},{pts:opc2Stray,c:GRAY},{pts:opc1Cluster,c:RED}]});
scatterPanel({xA:[-20,20],xP:[59,158],yA:[-20,20],yP:[460,356],l:27,r:194,t:319,b:509,xAxisY:504,yAxisX:31,xT:[-20,0,20],yT:[-20,0,20],pad:7,padY:6,fs:10.5,tfs:10,r0:2.05,yc:'#8d8d8d',xtx:108,xty:528,ytx:11,yty:408,
  series:[...grays.map(p=>({pts:p,c:GRAY})),{pts:opc1Cluster,c:GRAY},{pts:opc2Cluster,c:PURPLE},{pts:opc2Stray,c:PURPLE}]});
scatterPanel({xA:[-10,20],xP:[308,422],yA:[-10,20],yP:[150,30],l:265,r:425,t:17,b:189,xAxisY:184,yAxisX:270,xT:[-10,0,10,20],yT:[-10,0,10,20],pad:6,padY:5,fs:8.5,tfs:8.5,r0:2,yc:'#777',xtx:347,xty:205,ytx:251,yty:97,
  series:[{pts:opc1a,c:'#4fb568'},{pts:opc1b,c:'#fdb92b'},{pts:opc1c,c:'#0e4d5e'}]});
scatterPanel({xA:[-5,5],xP:[305,393],yA:[-4,4],yP:[450,352],l:262,r:426,t:326,b:498,xAxisY:494,yAxisX:267,xT:[-5,0,5],yT:[-4,0,4],pad:6,padY:5,fs:8.5,tfs:8.5,r0:1.9,yc:'#666',xtx:348,xty:515,ytx:250,yty:405,
  series:[{pts:opc2b,c:'#17b7c0'},{pts:opc2a,c:'#f26d68'}]});

function labels(list,fn){svg.append('g').selectAll('text').data(list).join('text').attr('x',d=>d[1]).attr('y',d=>d[2]).attr('dy','.35em').attr('text-anchor','middle').attr('font-size',8).attr('fill',fn).text(d=>d[0]);}
labels(overviewLabels,d=>d[0]==='OPC 1'?RED:'#989898');
labels(overviewLabelsC,d=>d[0]==='OPC 2'?PURPLE:'#989898');
const zoomLabels=[['OPC1c',291.7,35,'#0e4d5e'],['OPC1a',402,66,'#4fb568'],['OPC1b',298,100,'#fdb92b'],['OPC2b',320,343,'#17b7c0'],['OPC2a',357,460,'#f26d68']];
svg.append('g').selectAll('text').data(zoomLabels).join('text').attr('x',d=>d[1]).attr('y',d=>d[2]).attr('dy','.35em').attr('text-anchor','middle').attr('font-size',10).attr('fill',d=>d[3]).text(d=>d[0]);

// brackets
const br=(pts,c)=>svg.append('path').attr('d',d3.line()(pts)).attr('fill','none').attr('stroke',c).attr('stroke-width',1);
br([[259,11.5],[232.3,11.5],[232.3,197.5],[259,197.5]],RED); br([[165,38.5],[232.3,38.5]],RED);
br([[255.7,319.5],[228.7,319.5],[228.7,503.5],[255.7,503.5]],'#6d4c80'); br([[200,407.7],[228.7,407.7]],'#6d4c80');

// panel letters
[['A',1,16],['B',446,16],['C',1,323],['D',446,324]].forEach(d=>svg.append('text').attr('x',d[1]).attr('y',d[2]).attr('font-size',15).attr('font-weight',800).attr('fill','#111').text(d[0]));

// section titles
sectionTitles.forEach(s=>{
  svg.append('text').attr('x',s[1]).attr('y',s[2]).attr('text-anchor','middle').attr('font-size',13.5).attr('fill','#b83a4c').text(s[0]);
  svg.append('rect').attr('x',442).attr('y',s[3]-1.5).attr('width',225).attr('height',3).attr('fill','#b83a4c');
});

// violins
geneNames.forEach((gene,i)=>{
  const [ax,c0,c4,xe,y0,yr,rv,top,bot,tx,ty]=geneLayout[i];
  const g=svg.append('g');
  const x=d3.scalePoint().domain(catNames).range([c0,c4]);
  const ya=d3.scaleLinear().domain([0,rv]).range([y0,yr]);
  const y=ya.copy().domain([ya.invert(bot),ya.invert(top)]).range([bot,top]);
  const w=d3.scaleLinear().domain([0,1]).range([0,4.8]);
  catNames.forEach((cat,k)=>{
    const s=geneShapes[i][k];
    const thin=typeof s==='number';
    const shape=thin?(s>0?[[0,1],[.01,.03],[s,.03]]:[[0,1],[.001,1]]):s;
    const area=d3.area().y(d=>y(d[0])).x0(d=>x(cat)-w(d[1])).x1(d=>x(cat)+w(d[1])).curve(thin?d3.curveLinear:d3.curveMonotoneY);
    g.append('path').datum(shape).attr('d',area).attr('fill',catColors[k]).attr('stroke',thin?'#444':'#2a2a2a').attr('stroke-width',thin?1:.75).attr('stroke-linejoin','round');
    g.append('g').selectAll('circle').data(geneDots[i][k]).join('circle').attr('cx',d=>x(cat)+w(d[0])).attr('cy',d=>y(d[1])).attr('r',.6).attr('fill','#111');
  });
  const ay=g.append('g').attr('transform',`translate(${ax},0)`).call(d3.axisLeft(y).tickValues(geneTicks[i]).tickSize(1.5).tickPadding(1.5).tickFormat(d3.format('d')).tickSizeOuter(0));
  ay.select('.domain').attr('stroke','#222').attr('stroke-width',1.3);
  ay.selectAll('text').attr('font-size',7.5).attr('fill','#444').style('font-family','"Liberation Sans",sans-serif');
  const axb=g.append('g').attr('transform',`translate(0,${bot})`).call(d3.axisBottom(x).tickSize(1.5).tickPadding(1.5).tickSizeOuter(0));
  axb.select('.domain').attr('d',`M${ax},0H${xe}`).attr('stroke','#222').attr('stroke-width',1.3);
  axb.selectAll('text').attr('font-size',6.2).attr('fill',(d,k)=>catTextColors[k]).attr('text-anchor','end').attr('transform','rotate(-90)').attr('x',-3).attr('y',0).attr('dy','.35em');
  g.append('text').attr('x',tx).attr('y',ty).attr('text-anchor','middle').attr('font-size',8.6).attr('font-style','italic').attr('fill','#333').text(gene);
  if(i%3===0) g.append('text').attr('transform',`translate(445.5,${(top+bot)/2+2}) rotate(-90)`).attr('text-anchor','middle').attr('font-size',8).attr('fill','#555').text('Expression Level');
});
</script></body></html>
